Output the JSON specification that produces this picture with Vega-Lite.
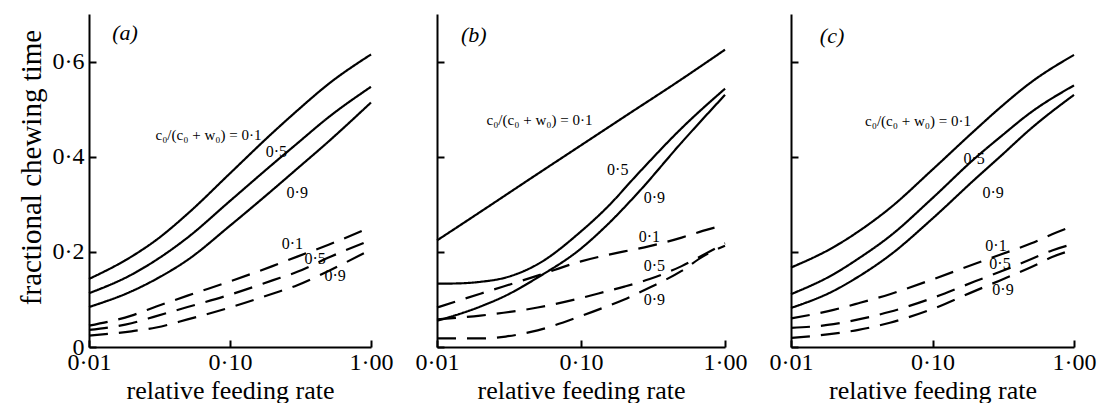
{
  "$schema": "https://vega.github.io/schema/vega-lite/v6.json",
  "background": "white",
  "padding": {"left": 17, "top": 14, "right": 5, "bottom": 0},
  "spacing": 66,
  "bounds": "flush",
  "config": {
    "font": "Liberation Serif",
    "view": {"stroke": null},
    "axis": {
      "grid": false,
      "domainColor": "black",
      "domainWidth": 2,
      "tickColor": "black",
      "tickWidth": 2,
      "tickSize": -7,
      "labelColor": "black",
      "labelFontSize": 24,
      "labelPadding": 12,
      "labelFlush": false,
      "titleColor": "black",
      "titleFontSize": 26,
      "titleFontWeight": "normal"
    },
    "axisY": {"titleFontSize": 29, "titlePadding": 6, "titleY": 153},
    "axisX": {"titlePadding": 3, "labelPadding": 10}
  },
  "datasets": {
    "curves": [
      {"panel":"a","type":"solid","ratio":"0.1","x":0.01,"y":0.143},
      {"panel":"a","type":"solid","ratio":"0.1","x":0.02,"y":0.19},
      {"panel":"a","type":"solid","ratio":"0.1","x":0.03,"y":0.225},
      {"panel":"a","type":"solid","ratio":"0.1","x":0.05,"y":0.28},
      {"panel":"a","type":"solid","ratio":"0.1","x":0.1,"y":0.365},
      {"panel":"a","type":"solid","ratio":"0.1","x":0.2,"y":0.45},
      {"panel":"a","type":"solid","ratio":"0.1","x":0.3,"y":0.497},
      {"panel":"a","type":"solid","ratio":"0.1","x":0.5,"y":0.553},
      {"panel":"a","type":"solid","ratio":"0.1","x":1,"y":0.615},
      {"panel":"a","type":"solid","ratio":"0.5","x":0.01,"y":0.113},
      {"panel":"a","type":"solid","ratio":"0.5","x":0.02,"y":0.152},
      {"panel":"a","type":"solid","ratio":"0.5","x":0.03,"y":0.183},
      {"panel":"a","type":"solid","ratio":"0.5","x":0.05,"y":0.23},
      {"panel":"a","type":"solid","ratio":"0.5","x":0.1,"y":0.307},
      {"panel":"a","type":"solid","ratio":"0.5","x":0.2,"y":0.384},
      {"panel":"a","type":"solid","ratio":"0.5","x":0.3,"y":0.428},
      {"panel":"a","type":"solid","ratio":"0.5","x":0.5,"y":0.483},
      {"panel":"a","type":"solid","ratio":"0.5","x":1,"y":0.547},
      {"panel":"a","type":"solid","ratio":"0.9","x":0.01,"y":0.084},
      {"panel":"a","type":"solid","ratio":"0.9","x":0.02,"y":0.117},
      {"panel":"a","type":"solid","ratio":"0.9","x":0.03,"y":0.143},
      {"panel":"a","type":"solid","ratio":"0.9","x":0.05,"y":0.183},
      {"panel":"a","type":"solid","ratio":"0.9","x":0.1,"y":0.255},
      {"panel":"a","type":"solid","ratio":"0.9","x":0.2,"y":0.33},
      {"panel":"a","type":"solid","ratio":"0.9","x":0.3,"y":0.375},
      {"panel":"a","type":"solid","ratio":"0.9","x":0.5,"y":0.432},
      {"panel":"a","type":"solid","ratio":"0.9","x":1,"y":0.514},
      {"panel":"a","type":"dashed","ratio":"0.1","x":0.01,"y":0.045},
      {"panel":"a","type":"dashed","ratio":"0.1","x":0.02,"y":0.066},
      {"panel":"a","type":"dashed","ratio":"0.1","x":0.03,"y":0.085},
      {"panel":"a","type":"dashed","ratio":"0.1","x":0.05,"y":0.108},
      {"panel":"a","type":"dashed","ratio":"0.1","x":0.1,"y":0.138},
      {"panel":"a","type":"dashed","ratio":"0.1","x":0.2,"y":0.17},
      {"panel":"a","type":"dashed","ratio":"0.1","x":0.3,"y":0.19},
      {"panel":"a","type":"dashed","ratio":"0.1","x":0.5,"y":0.215},
      {"panel":"a","type":"dashed","ratio":"0.1","x":1,"y":0.252},
      {"panel":"a","type":"dashed","ratio":"0.5","x":0.01,"y":0.036},
      {"panel":"a","type":"dashed","ratio":"0.5","x":0.02,"y":0.05},
      {"panel":"a","type":"dashed","ratio":"0.5","x":0.03,"y":0.065},
      {"panel":"a","type":"dashed","ratio":"0.5","x":0.05,"y":0.084},
      {"panel":"a","type":"dashed","ratio":"0.5","x":0.1,"y":0.11},
      {"panel":"a","type":"dashed","ratio":"0.5","x":0.2,"y":0.14},
      {"panel":"a","type":"dashed","ratio":"0.5","x":0.3,"y":0.158},
      {"panel":"a","type":"dashed","ratio":"0.5","x":0.5,"y":0.188},
      {"panel":"a","type":"dashed","ratio":"0.5","x":1,"y":0.225},
      {"panel":"a","type":"dashed","ratio":"0.9","x":0.01,"y":0.024},
      {"panel":"a","type":"dashed","ratio":"0.9","x":0.02,"y":0.033},
      {"panel":"a","type":"dashed","ratio":"0.9","x":0.03,"y":0.041},
      {"panel":"a","type":"dashed","ratio":"0.9","x":0.05,"y":0.058},
      {"panel":"a","type":"dashed","ratio":"0.9","x":0.1,"y":0.083},
      {"panel":"a","type":"dashed","ratio":"0.9","x":0.2,"y":0.112},
      {"panel":"a","type":"dashed","ratio":"0.9","x":0.3,"y":0.13},
      {"panel":"a","type":"dashed","ratio":"0.9","x":0.5,"y":0.16},
      {"panel":"a","type":"dashed","ratio":"0.9","x":1,"y":0.205},

      {"panel":"b","type":"solid","ratio":"0.1","x":0.01,"y":0.224},
      {"panel":"b","type":"solid","ratio":"0.1","x":0.02,"y":0.284},
      {"panel":"b","type":"solid","ratio":"0.1","x":0.05,"y":0.364},
      {"panel":"b","type":"solid","ratio":"0.1","x":0.1,"y":0.424},
      {"panel":"b","type":"solid","ratio":"0.1","x":0.2,"y":0.484},
      {"panel":"b","type":"solid","ratio":"0.1","x":0.5,"y":0.563},
      {"panel":"b","type":"solid","ratio":"0.1","x":1,"y":0.625},
      {"panel":"b","type":"solid","ratio":"0.5","x":0.01,"y":0.133},
      {"panel":"b","type":"solid","ratio":"0.5","x":0.015,"y":0.134},
      {"panel":"b","type":"solid","ratio":"0.5","x":0.02,"y":0.137},
      {"panel":"b","type":"solid","ratio":"0.5","x":0.03,"y":0.146},
      {"panel":"b","type":"solid","ratio":"0.5","x":0.05,"y":0.174},
      {"panel":"b","type":"solid","ratio":"0.5","x":0.1,"y":0.243},
      {"panel":"b","type":"solid","ratio":"0.5","x":0.15,"y":0.292},
      {"panel":"b","type":"solid","ratio":"0.5","x":0.25,"y":0.365},
      {"panel":"b","type":"solid","ratio":"0.5","x":0.5,"y":0.46},
      {"panel":"b","type":"solid","ratio":"0.5","x":1,"y":0.543},
      {"panel":"b","type":"solid","ratio":"0.9","x":0.01,"y":0.055},
      {"panel":"b","type":"solid","ratio":"0.9","x":0.02,"y":0.085},
      {"panel":"b","type":"solid","ratio":"0.9","x":0.03,"y":0.108},
      {"panel":"b","type":"solid","ratio":"0.9","x":0.05,"y":0.146},
      {"panel":"b","type":"solid","ratio":"0.9","x":0.1,"y":0.207},
      {"panel":"b","type":"solid","ratio":"0.9","x":0.15,"y":0.255},
      {"panel":"b","type":"solid","ratio":"0.9","x":0.25,"y":0.325},
      {"panel":"b","type":"solid","ratio":"0.9","x":0.5,"y":0.43},
      {"panel":"b","type":"solid","ratio":"0.9","x":1,"y":0.53},
      {"panel":"b","type":"dashed","ratio":"0.1","x":0.01,"y":0.083},
      {"panel":"b","type":"dashed","ratio":"0.1","x":0.02,"y":0.112},
      {"panel":"b","type":"dashed","ratio":"0.1","x":0.05,"y":0.15},
      {"panel":"b","type":"dashed","ratio":"0.1","x":0.1,"y":0.18},
      {"panel":"b","type":"dashed","ratio":"0.1","x":0.15,"y":0.193},
      {"panel":"b","type":"dashed","ratio":"0.1","x":0.2,"y":0.201},
      {"panel":"b","type":"dashed","ratio":"0.1","x":0.3,"y":0.212},
      {"panel":"b","type":"dashed","ratio":"0.1","x":0.5,"y":0.23},
      {"panel":"b","type":"dashed","ratio":"0.1","x":0.7,"y":0.244},
      {"panel":"b","type":"dashed","ratio":"0.1","x":1,"y":0.257},
      {"panel":"b","type":"dashed","ratio":"0.5","x":0.01,"y":0.058},
      {"panel":"b","type":"dashed","ratio":"0.5","x":0.02,"y":0.066},
      {"panel":"b","type":"dashed","ratio":"0.5","x":0.05,"y":0.083},
      {"panel":"b","type":"dashed","ratio":"0.5","x":0.1,"y":0.103},
      {"panel":"b","type":"dashed","ratio":"0.5","x":0.15,"y":0.117},
      {"panel":"b","type":"dashed","ratio":"0.5","x":0.2,"y":0.127},
      {"panel":"b","type":"dashed","ratio":"0.5","x":0.3,"y":0.143},
      {"panel":"b","type":"dashed","ratio":"0.5","x":0.5,"y":0.17},
      {"panel":"b","type":"dashed","ratio":"0.5","x":0.7,"y":0.193},
      {"panel":"b","type":"dashed","ratio":"0.5","x":1,"y":0.218},
      {"panel":"b","type":"dashed","ratio":"0.9","x":0.01,"y":0.018},
      {"panel":"b","type":"dashed","ratio":"0.9","x":0.02,"y":0.018},
      {"panel":"b","type":"dashed","ratio":"0.9","x":0.03,"y":0.022},
      {"panel":"b","type":"dashed","ratio":"0.9","x":0.05,"y":0.035},
      {"panel":"b","type":"dashed","ratio":"0.9","x":0.1,"y":0.065},
      {"panel":"b","type":"dashed","ratio":"0.9","x":0.15,"y":0.085},
      {"panel":"b","type":"dashed","ratio":"0.9","x":0.2,"y":0.1},
      {"panel":"b","type":"dashed","ratio":"0.9","x":0.3,"y":0.125},
      {"panel":"b","type":"dashed","ratio":"0.9","x":0.5,"y":0.16},
      {"panel":"b","type":"dashed","ratio":"0.9","x":0.7,"y":0.19},
      {"panel":"b","type":"dashed","ratio":"0.9","x":1,"y":0.213},

      {"panel":"c","type":"solid","ratio":"0.1","x":0.01,"y":0.167},
      {"panel":"c","type":"solid","ratio":"0.1","x":0.02,"y":0.21},
      {"panel":"c","type":"solid","ratio":"0.1","x":0.03,"y":0.243},
      {"panel":"c","type":"solid","ratio":"0.1","x":0.05,"y":0.292},
      {"panel":"c","type":"solid","ratio":"0.1","x":0.1,"y":0.373},
      {"panel":"c","type":"solid","ratio":"0.1","x":0.2,"y":0.456},
      {"panel":"c","type":"solid","ratio":"0.1","x":0.3,"y":0.503},
      {"panel":"c","type":"solid","ratio":"0.1","x":0.5,"y":0.557},
      {"panel":"c","type":"solid","ratio":"0.1","x":1,"y":0.614},
      {"panel":"c","type":"solid","ratio":"0.5","x":0.01,"y":0.111},
      {"panel":"c","type":"solid","ratio":"0.5","x":0.02,"y":0.153},
      {"panel":"c","type":"solid","ratio":"0.5","x":0.03,"y":0.186},
      {"panel":"c","type":"solid","ratio":"0.5","x":0.05,"y":0.233},
      {"panel":"c","type":"solid","ratio":"0.5","x":0.1,"y":0.313},
      {"panel":"c","type":"solid","ratio":"0.5","x":0.2,"y":0.397},
      {"panel":"c","type":"solid","ratio":"0.5","x":0.3,"y":0.441},
      {"panel":"c","type":"solid","ratio":"0.5","x":0.5,"y":0.494},
      {"panel":"c","type":"solid","ratio":"0.5","x":1,"y":0.55},
      {"panel":"c","type":"solid","ratio":"0.9","x":0.01,"y":0.082},
      {"panel":"c","type":"solid","ratio":"0.9","x":0.02,"y":0.118},
      {"panel":"c","type":"solid","ratio":"0.9","x":0.03,"y":0.148},
      {"panel":"c","type":"solid","ratio":"0.9","x":0.05,"y":0.193},
      {"panel":"c","type":"solid","ratio":"0.9","x":0.1,"y":0.27},
      {"panel":"c","type":"solid","ratio":"0.9","x":0.2,"y":0.353},
      {"panel":"c","type":"solid","ratio":"0.9","x":0.3,"y":0.4},
      {"panel":"c","type":"solid","ratio":"0.9","x":0.5,"y":0.46},
      {"panel":"c","type":"solid","ratio":"0.9","x":1,"y":0.53},
      {"panel":"c","type":"dashed","ratio":"0.1","x":0.01,"y":0.06},
      {"panel":"c","type":"dashed","ratio":"0.1","x":0.02,"y":0.078},
      {"panel":"c","type":"dashed","ratio":"0.1","x":0.03,"y":0.092},
      {"panel":"c","type":"dashed","ratio":"0.1","x":0.05,"y":0.111},
      {"panel":"c","type":"dashed","ratio":"0.1","x":0.1,"y":0.142},
      {"panel":"c","type":"dashed","ratio":"0.1","x":0.2,"y":0.175},
      {"panel":"c","type":"dashed","ratio":"0.1","x":0.3,"y":0.194},
      {"panel":"c","type":"dashed","ratio":"0.1","x":0.5,"y":0.218},
      {"panel":"c","type":"dashed","ratio":"0.1","x":0.7,"y":0.237},
      {"panel":"c","type":"dashed","ratio":"0.1","x":1,"y":0.255},
      {"panel":"c","type":"dashed","ratio":"0.5","x":0.01,"y":0.04},
      {"panel":"c","type":"dashed","ratio":"0.5","x":0.02,"y":0.048},
      {"panel":"c","type":"dashed","ratio":"0.5","x":0.03,"y":0.058},
      {"panel":"c","type":"dashed","ratio":"0.5","x":0.05,"y":0.074},
      {"panel":"c","type":"dashed","ratio":"0.5","x":0.1,"y":0.103},
      {"panel":"c","type":"dashed","ratio":"0.5","x":0.2,"y":0.138},
      {"panel":"c","type":"dashed","ratio":"0.5","x":0.3,"y":0.158},
      {"panel":"c","type":"dashed","ratio":"0.5","x":0.5,"y":0.185},
      {"panel":"c","type":"dashed","ratio":"0.5","x":0.7,"y":0.203},
      {"panel":"c","type":"dashed","ratio":"0.5","x":1,"y":0.217},
      {"panel":"c","type":"dashed","ratio":"0.9","x":0.01,"y":0.019},
      {"panel":"c","type":"dashed","ratio":"0.9","x":0.02,"y":0.028},
      {"panel":"c","type":"dashed","ratio":"0.9","x":0.03,"y":0.036},
      {"panel":"c","type":"dashed","ratio":"0.9","x":0.05,"y":0.051},
      {"panel":"c","type":"dashed","ratio":"0.9","x":0.1,"y":0.08},
      {"panel":"c","type":"dashed","ratio":"0.9","x":0.2,"y":0.118},
      {"panel":"c","type":"dashed","ratio":"0.9","x":0.3,"y":0.14},
      {"panel":"c","type":"dashed","ratio":"0.9","x":0.5,"y":0.168},
      {"panel":"c","type":"dashed","ratio":"0.9","x":0.7,"y":0.189},
      {"panel":"c","type":"dashed","ratio":"0.9","x":1,"y":0.205}
    ],
    "labels": [
      {"panel":"a","kind":"formula","x":0.167,"y":0.446,"text":"c₀/(c₀ + w₀) = 0·1"},
      {"panel":"a","kind":"num","x":0.213,"y":0.41,"text":"0·5"},
      {"panel":"a","kind":"num","x":0.3,"y":0.324,"text":"0·9"},
      {"panel":"a","kind":"num","x":0.277,"y":0.217,"text":"0·1"},
      {"panel":"a","kind":"num","x":0.402,"y":0.185,"text":"0·5"},
      {"panel":"a","kind":"num","x":0.557,"y":0.149,"text":"0·9"},
      {"panel":"a","kind":"letter","x":0.018,"y":0.661,"text":"(a)"},
      {"panel":"b","kind":"formula","x":0.12,"y":0.477,"text":"c₀/(c₀ + w₀) = 0·1"},
      {"panel":"b","kind":"num","x":0.18,"y":0.372,"text":"0·5"},
      {"panel":"b","kind":"num","x":0.323,"y":0.313,"text":"0·9"},
      {"panel":"b","kind":"num","x":0.298,"y":0.231,"text":"0·1"},
      {"panel":"b","kind":"num","x":0.323,"y":0.17,"text":"0·5"},
      {"panel":"b","kind":"num","x":0.323,"y":0.099,"text":"0·9"},
      {"panel":"b","kind":"letter","x":0.018,"y":0.655,"text":"(b)"},
      {"panel":"c","kind":"formula","x":0.187,"y":0.475,"text":"c₀/(c₀ + w₀) = 0·1"},
      {"panel":"c","kind":"num","x":0.197,"y":0.395,"text":"0·5"},
      {"panel":"c","kind":"num","x":0.268,"y":0.324,"text":"0·9"},
      {"panel":"c","kind":"num","x":0.281,"y":0.213,"text":"0·1"},
      {"panel":"c","kind":"num","x":0.3,"y":0.174,"text":"0·5"},
      {"panel":"c","kind":"num","x":0.315,"y":0.119,"text":"0·9"},
      {"panel":"c","kind":"letter","x":0.0195,"y":0.653,"text":"(c)"}
    ]
  },
  "hconcat": [
    {
      "width": 282, "height": 333,
      "encoding": {
        "x": {"field": "x", "type": "quantitative",
              "scale": {"type": "log", "domain": [0.01, 1]},
              "axis": {"values": [0.01, 0.1, 1], "title": "relative feeding rate",
                       "labelExpr": "replace(format(datum.value, '.2f'), '.', '·')"}},
        "y": {"field": "y", "type": "quantitative",
              "scale": {"domain": [0, 0.7]},
              "axis": {"values": [0, 0.2, 0.4, 0.6], "title": "fractional chewing time",
                       "labelExpr": "datum.value == 0 ? '0' : replace(format(datum.value, '.1f'), '.', '·')"}}
      },
      "layer": [
        {"data": {"name": "curves"}, "transform": [{"filter": "datum.panel === 'a'"}],
         "mark": {"type": "line", "color": "black", "strokeWidth": 2.2, "interpolate": "monotone"},
         "encoding": {"detail": [{"field": "type"}, {"field": "ratio"}],
                      "strokeDash": {"field": "type", "type": "nominal", "legend": null,
                                     "scale": {"domain": ["solid", "dashed"], "range": [[1, 0], [19, 11]]}}}},
        {"data": {"name": "labels"}, "transform": [{"filter": "datum.panel === 'a' && datum.kind === 'num'"}],
         "mark": {"type": "text", "fontSize": 16, "color": "black"},
         "encoding": {"text": {"field": "text"}}},
        {"data": {"name": "labels"}, "transform": [{"filter": "datum.panel === 'a' && datum.kind === 'formula'"}],
         "mark": {"type": "text", "fontSize": 15, "color": "black", "align": "right"},
         "encoding": {"text": {"field": "text"}}},
        {"data": {"name": "labels"}, "transform": [{"filter": "datum.panel === 'a' && datum.kind === 'letter'"}],
         "mark": {"type": "text", "fontSize": 22, "color": "black", "fontStyle": "italic"},
         "encoding": {"text": {"field": "text"}}}
      ]
    },
    {
      "width": 288, "height": 333,
      "encoding": {
        "x": {"field": "x", "type": "quantitative",
              "scale": {"type": "log", "domain": [0.01, 1]},
              "axis": {"values": [0.01, 0.1, 1], "title": "relative feeding rate",
                       "labelExpr": "replace(format(datum.value, '.2f'), '.', '·')"}},
        "y": {"field": "y", "type": "quantitative",
              "scale": {"domain": [0, 0.7]},
              "axis": {"values": [0, 0.2, 0.4, 0.6], "title": null, "labels": false}}
      },
      "layer": [
        {"data": {"name": "curves"}, "transform": [{"filter": "datum.panel === 'b'"}],
         "mark": {"type": "line", "color": "black", "strokeWidth": 2.2, "interpolate": "monotone"},
         "encoding": {"detail": [{"field": "type"}, {"field": "ratio"}],
                      "strokeDash": {"field": "type", "type": "nominal", "legend": null,
                                     "scale": {"domain": ["solid", "dashed"], "range": [[1, 0], [19, 11]]}}}},
        {"data": {"name": "labels"}, "transform": [{"filter": "datum.panel === 'b' && datum.kind === 'num'"}],
         "mark": {"type": "text", "fontSize": 16, "color": "black"},
         "encoding": {"text": {"field": "text"}}},
        {"data": {"name": "labels"}, "transform": [{"filter": "datum.panel === 'b' && datum.kind === 'formula'"}],
         "mark": {"type": "text", "fontSize": 15, "color": "black", "align": "right"},
         "encoding": {"text": {"field": "text"}}},
        {"data": {"name": "labels"}, "transform": [{"filter": "datum.panel === 'b' && datum.kind === 'letter'"}],
         "mark": {"type": "text", "fontSize": 22, "color": "black", "fontStyle": "italic"},
         "encoding": {"text": {"field": "text"}}}
      ]
    },
    {
      "width": 283, "height": 333,
      "encoding": {
        "x": {"field": "x", "type": "quantitative",
              "scale": {"type": "log", "domain": [0.01, 1]},
              "axis": {"values": [0.01, 0.1, 1], "title": "relative feeding rate",
                       "labelExpr": "replace(format(datum.value, '.2f'), '.', '·')"}},
        "y": {"field": "y", "type": "quantitative",
              "scale": {"domain": [0, 0.7]},
              "axis": {"values": [0, 0.2, 0.4, 0.6], "title": null, "labels": false}}
      },
      "layer": [
        {"data": {"name": "curves"}, "transform": [{"filter": "datum.panel === 'c'"}],
         "mark": {"type": "line", "color": "black", "strokeWidth": 2.2, "interpolate": "monotone"},
         "encoding": {"detail": [{"field": "type"}, {"field": "ratio"}],
                      "strokeDash": {"field": "type", "type": "nominal", "legend": null,
                                     "scale": {"domain": ["solid", "dashed"], "range": [[1, 0], [19, 11]]}}}},
        {"data": {"name": "labels"}, "transform": [{"filter": "datum.panel === 'c' && datum.kind === 'num'"}],
         "mark": {"type": "text", "fontSize": 16, "color": "black"},
         "encoding": {"text": {"field": "text"}}},
        {"data": {"name": "labels"}, "transform": [{"filter": "datum.panel === 'c' && datum.kind === 'formula'"}],
         "mark": {"type": "text", "fontSize": 15, "color": "black", "align": "right"},
         "encoding": {"text": {"field": "text"}}},
        {"data": {"name": "labels"}, "transform": [{"filter": "datum.panel === 'c' && datum.kind === 'letter'"}],
         "mark": {"type": "text", "fontSize": 22, "color": "black", "fontStyle": "italic"},
         "encoding": {"text": {"field": "text"}}}
      ]
    }
  ]
}
